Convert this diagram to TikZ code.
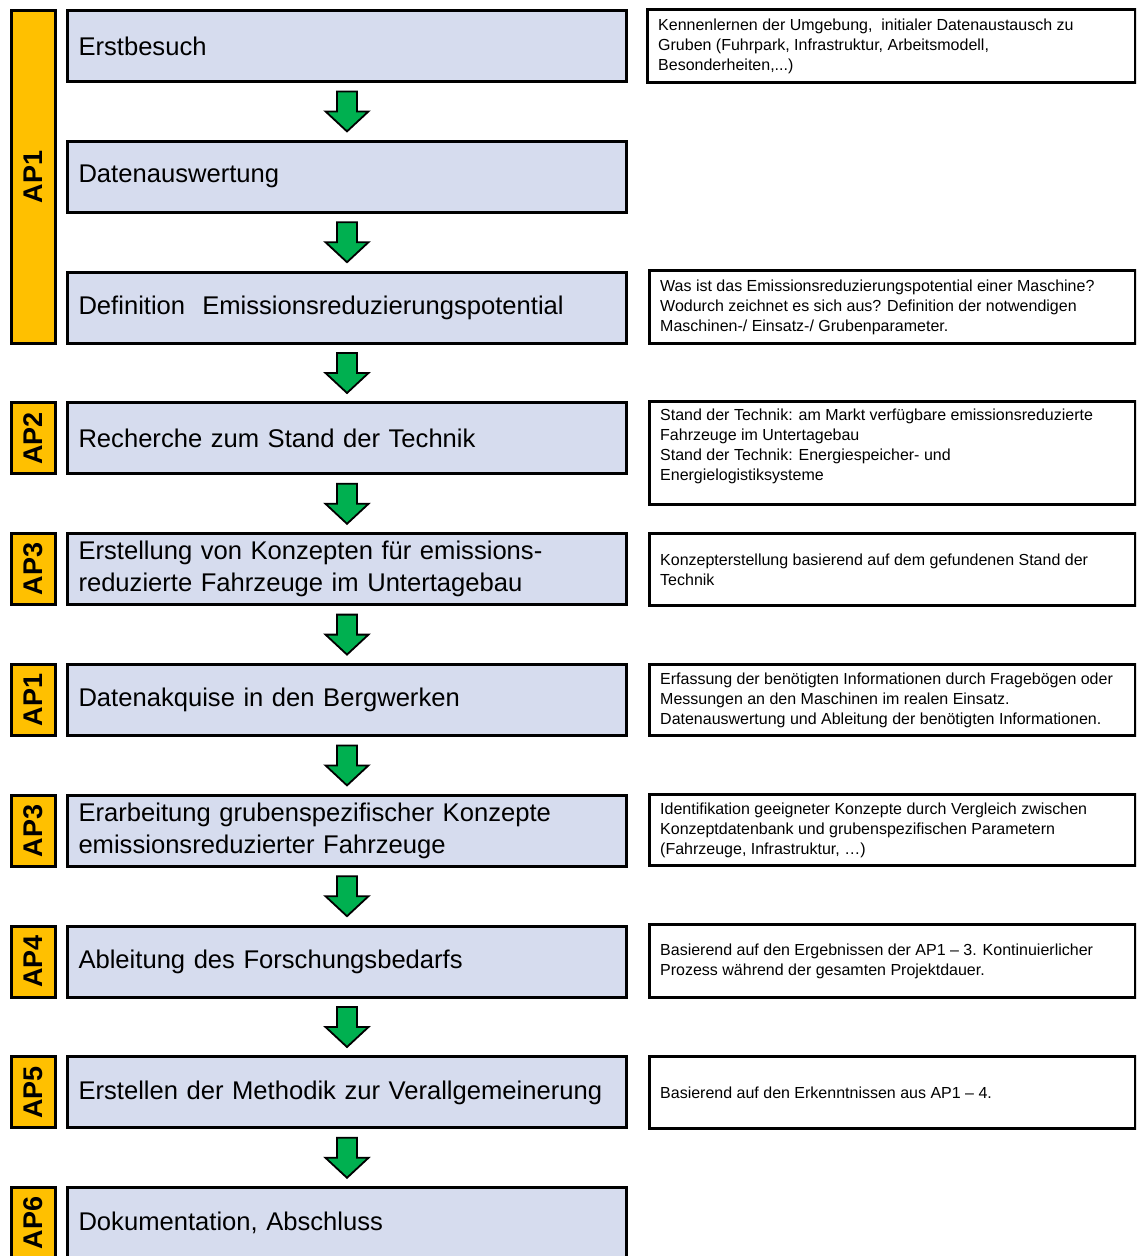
\documentclass[tikz,border=0pt]{standalone}
\usepackage{fontspec}
\setmainfont{Liberation Sans}
\newfontfamily\mbfont{Liberation Sans}[WordSpace=1.35]
\usetikzlibrary{calc}
\definecolor{boxblue}{RGB}{214,220,238}
\definecolor{apgold}{RGB}{255,192,0}
\definecolor{arrgreen}{RGB}{0,176,80}
\newcommand\flowarrow[2]{%
  \draw[garrow] let \p1=($(#1.south)!0.5!(#2.north)$) in
    (\x1-10pt,\y1+20pt) -- (\x1+10pt,\y1+20pt) -- (\x1+10pt,\y1) --
    (\x1+21.5pt,\y1) -- (\x1,\y1-20pt) -- (\x1-21.5pt,\y1) --
    (\x1-10pt,\y1) -- cycle;}
\begin{document}
\begin{tikzpicture}[x=1pt,y=-1pt,
  mainbox/.style={draw=black, line width=3pt, fill=boxblue, anchor=north west,
    minimum height=71pt, text width=537pt, inner xsep=11pt, inner ysep=0pt,
    align=left, font=\mbfont\fontsize{25.6}{32}\selectfont},
  apbox/.style={draw=black, line width=3pt, fill=apgold, rotate=90,
    minimum height=44pt, inner sep=0pt, font=\bfseries\fontsize{27}{30}\selectfont},
  rbox/.style={draw=black, line width=2.8pt, fill=white, anchor=north west,
    minimum width=486pt, inner sep=0pt},
  rtext/.style={anchor=west, inner sep=0pt, align=left,
    font=\fontsize{16}{20}\selectfont},
  garrow/.style={draw=black, line width=1.8pt, fill=arrgreen, line join=miter}]
\useasboundingbox (0,0) rectangle (1136,1256);
\clip (0,0) rectangle (1136,1256);
\fill[white] (0,0) rectangle (1136,1256);

% main boxes
\node[mainbox] (m1) at (66,9) {Erstbesuch};
\node[mainbox] (m2) at (66,139.8) {Datenauswertung};
\node[mainbox] (m3) at (66,270.6) {Definition\ \ Emissionsreduzierungspotential};
\node[mainbox] (m4) at (66,401.4) {Recherche zum Stand der Technik};
\node[mainbox] (m5) at (66,532.2) {Erstellung von Konzepten für emissions-\\reduzierte Fahrzeuge im Untertagebau};
\node[mainbox] (m6) at (66,663) {Datenakquise in den Bergwerken};
\node[mainbox] (m7) at (66,793.8) {Erarbeitung grubenspezifischer Konzepte\\emissionsreduzierter Fahrzeuge};
\node[mainbox] (m8) at (66,924.6) {Ableitung des Forschungsbedarfs};
\node[mainbox] (m9) at (66,1055.4) {Erstellen der Methodik zur Verallgemeinerung};
\node[mainbox] (m10) at (66,1186.2) {Dokumentation, Abschluss};

% AP labels
\node[apbox, minimum width=332.6pt] (a1) at (33.5,176.8) {AP1};
\node[apbox, minimum width=71pt] (a2) at (33.5,438.4) {AP2};
\node[apbox, minimum width=71pt] (a3) at (33.5,569.2) {AP3};
\node[apbox, minimum width=71pt] (a4) at (33.5,700) {AP1};
\node[apbox, minimum width=71pt] (a5) at (33.5,830.8) {AP3};
\node[apbox, minimum width=71pt] (a6) at (33.5,961.6) {AP4};
\node[apbox, minimum width=71pt] (a7) at (33.5,1092.4) {AP5};
\node[apbox, minimum width=71pt] (a8) at (33.5,1223.2) {AP6};

% arrows
\flowarrow{m1}{m2}
\flowarrow{m2}{m3}
\flowarrow{m3}{m4}
\flowarrow{m4}{m5}
\flowarrow{m5}{m6}
\flowarrow{m6}{m7}
\flowarrow{m7}{m8}
\flowarrow{m8}{m9}
\flowarrow{m9}{m10}

% right boxes
\node[rbox, minimum width=488pt, minimum height=73pt] (r1) at (646,8) {};
\node[rtext] (t1) at ($(r1.west)+(12,0)$) {Kennenlernen der Umgebung,\ \ initialer Datenaustausch zu\\Gruben (Fuhrpark, Infrastruktur, Arbeitsmodell,\\Besonderheiten,...)};
\node[rbox, minimum height=73pt] (r2) at (648,269) {};
\node[rtext] (t2) at ($(r2.west)+(12,0)$) {Was ist das Emissionsreduzierungspotential einer Maschine?\\Wodurch zeichnet es sich aus? Definition der notwendigen\\Maschinen-/ Einsatz-/ Grubenparameter.};
\node[rbox, minimum height=103pt] (r3) at (648,400) {};
\node[rtext] (t3) at ($(r3.west)+(12,-7)$) {Stand der Technik: am Markt verfügbare emissionsreduzierte\\Fahrzeuge im Untertagebau\\Stand der Technik: Energiespeicher- und\\Energielogistiksysteme};
\node[rbox, minimum height=72pt] (r4) at (648,532) {};
\node[rtext] (t4) at ($(r4.west)+(12,0)$) {Konzepterstellung basierend auf dem gefundenen Stand der\\Technik};
\node[rbox, minimum height=71pt] (r5) at (648,663) {};
\node[rtext] (t5) at ($(r5.west)+(12,0)$) {Erfassung der benötigten Informationen durch Fragebögen oder\\Messungen an den Maschinen im realen Einsatz.\\Datenauswertung und Ableitung der benötigten Informationen.};
\node[rbox, minimum height=71pt] (r6) at (648,793) {};
\node[rtext] (t6) at ($(r6.west)+(12,0)$) {Identifikation geeigneter Konzepte durch Vergleich zwischen\\Konzeptdatenbank und grubenspezifischen Parametern\\(Fahrzeuge, Infrastruktur, …)};
\node[rbox, minimum height=73pt] (r7) at (648,923) {};
\node[rtext] (t7) at ($(r7.west)+(12,0)$) {Basierend auf den Ergebnissen der AP1 – 3. Kontinuierlicher\\Prozess während der gesamten Projektdauer.};
\node[rbox, minimum height=72pt] (r8) at (648,1055) {};
\node[rtext] (t8) at ($(r8.west)+(12,0)$) {Basierend auf den Erkenntnissen aus AP1 – 4.};
\end{tikzpicture}
\end{document}
